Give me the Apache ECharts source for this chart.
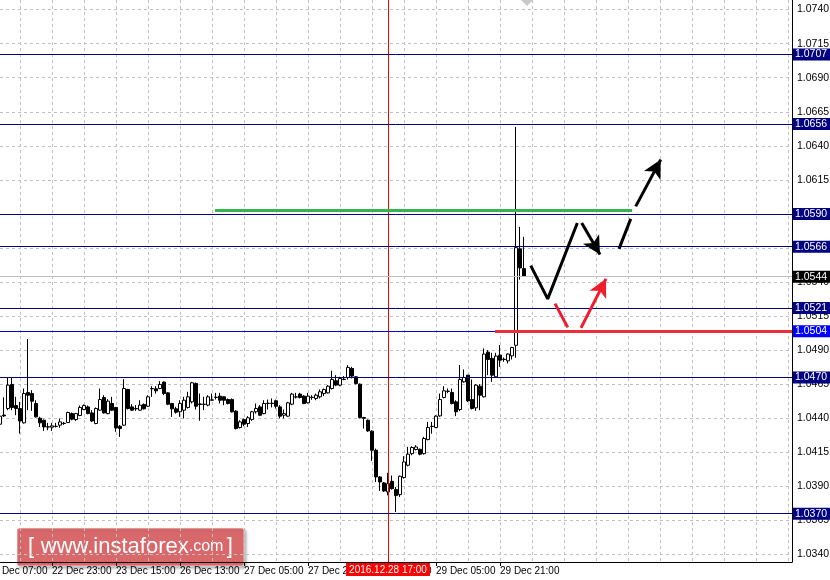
<!DOCTYPE html>
<html><head><meta charset="utf-8">
<script src="https://cdn.jsdelivr.net/npm/echarts@6/dist/echarts.min.js"></script>
<style>html,body{margin:0;padding:0;background:#fff}#c{width:830px;height:580px}</style>
</head><body><div id="c"></div>
<script>
// ---- data (EURUSD H1, bar index 0 = 22 Dec 07:00) ----
const opens = [1.0440,1.0444,1.0441,1.04357,1.04424,1.04472,1.04649,1.04494,1.04472,1.04367,
1.04590,1.04582,1.04509,1.04401,1.04386,1.04338,1.04335,1.04342,1.04350,1.04362,
1.04369,1.04435,1.04391,1.04421,1.04465,1.04484,1.04440,1.04362,1.04460,1.04553,
1.04435,1.04509,1.04480,1.04342,1.04350,1.04612,1.04484,1.04472,1.04460,1.04502,
1.04489,1.04617,1.04617,1.04619,1.04666,1.04587,1.04509,1.04470,1.04448,1.04460,
1.04480,1.04521,1.04656,1.04506,1.04502,1.04497,1.04533,1.04553,1.04563,1.04558,
1.04538,1.04538,1.04453,1.04333,1.04391,1.04362,1.04391,1.04448,1.04484,1.04435,
1.04509,1.04511,1.04529,1.04484,1.04423,1.04416,1.04504,1.04556,1.04578,1.04563,
1.04514,1.04553,1.04546,1.04558,1.04582,1.04587,1.04619,1.04676,1.04644,1.04685,
1.04700,1.04766,1.04705,1.04651,1.04406,1.04386,1.04306,1.04166,1.03970,1.03926,
1.03860,1.03938,1.03877,1.03840,1.03965,1.04056,1.04141,1.04171,1.04173,1.04141,
1.04244,1.04340,1.04333,1.04418,1.04553,1.04598,1.04590,1.04521,1.04465,1.04668,
1.04717,1.04538,1.04477,1.04636,1.04558,1.04886,1.04840,1.04705,1.04864,1.04832,
1.04822,1.04859,1.04936,1.05644,1.05499];
const closes = [1.0444,1.0441,1.0437,1.04416,1.04418,1.04644,1.04480,1.04472,1.04381,1.04582,
1.04570,1.04526,1.04411,1.04367,1.04337,1.04336,1.04345,1.04340,1.04374,1.04364,
1.04443,1.04394,1.04435,1.04480,1.04494,1.04435,1.04381,1.04472,1.04538,1.04440,
1.04526,1.04460,1.04330,1.04325,1.04619,1.04472,1.04460,1.04470,1.04497,1.04470,
1.04558,1.04619,1.04602,1.04649,1.04582,1.04504,1.04470,1.04445,1.04509,1.04533,
1.04558,1.04661,1.04489,1.04502,1.04504,1.04558,1.04536,1.04555,1.04533,1.04533,
1.04509,1.04448,1.04325,1.04374,1.04357,1.04404,1.04448,1.04472,1.04423,1.04509,
1.04511,1.04509,1.04489,1.04416,1.04435,1.04514,1.04578,1.04558,1.04553,1.04509,
1.04563,1.04555,1.04570,1.04595,1.04612,1.04636,1.04685,1.04644,1.04693,1.04687,
1.04774,1.04710,1.04656,1.04406,1.04401,1.04308,1.04166,1.03970,1.03933,1.03867,
1.03921,1.03884,1.03833,1.03975,1.04080,1.04137,1.04186,1.04190,1.04137,1.04252,
1.04333,1.04342,1.04416,1.04538,1.04602,1.04600,1.04509,1.04448,1.04685,1.04700,
1.04528,1.04472,1.04644,1.04570,1.04872,1.04832,1.04717,1.04857,1.04827,1.04834,
1.04872,1.04920,1.05653,1.05504,1.05442];
const lows = [1.0437,1.0438,1.0433,1.04320,1.04410,1.04460,1.04460,1.04423,1.04288,1.04362,
1.04460,1.04455,1.04406,1.04337,1.04308,1.04313,1.04308,1.04333,1.04330,1.04352,
1.04367,1.04386,1.04381,1.04416,1.04460,1.04430,1.04374,1.04357,1.04457,1.04435,
1.04430,1.04455,1.04301,1.04264,1.04345,1.04465,1.04455,1.04455,1.04455,1.04465,
1.04484,1.04558,1.04582,1.04614,1.04570,1.04497,1.04411,1.04435,1.04411,1.04399,
1.04472,1.04509,1.04465,1.04382,1.04460,1.04489,1.04529,1.04538,1.04509,1.04497,
1.04502,1.04443,1.04318,1.04325,1.04342,1.04337,1.04382,1.04435,1.04416,1.04430,
1.04465,1.04480,1.04472,1.04399,1.04399,1.04411,1.04497,1.04546,1.04546,1.04504,
1.04509,1.04536,1.04533,1.04546,1.04563,1.04582,1.04612,1.04636,1.04636,1.04680,
1.04685,1.04693,1.04649,1.04399,1.04325,1.04301,1.04088,1.03933,1.03867,1.03860,
1.03835,1.03877,1.03713,1.03823,1.03958,1.04048,1.04129,1.04165,1.04129,1.04134,
1.04239,1.04288,1.04328,1.04411,1.04546,1.04585,1.04502,1.04416,1.04453,1.04661,
1.04521,1.04465,1.04455,1.04460,1.04553,1.04717,1.04668,1.04700,1.04778,1.04815,
1.04803,1.04832,1.04844,1.05418,1.05438];
const highs = [1.0447,1.0446,1.0443,1.04490,1.04555,1.04700,1.04700,1.04558,1.04521,1.04619,
1.04982,1.04607,1.04533,1.04411,1.04391,1.04367,1.04367,1.04367,1.04399,1.04374,
1.04448,1.04443,1.04440,1.04494,1.04502,1.04494,1.04460,1.04480,1.04619,1.04570,
1.04541,1.04558,1.04484,1.04350,1.04688,1.04617,1.04504,1.04497,1.04533,1.04509,
1.04570,1.04636,1.04636,1.04673,1.04671,1.04592,1.04514,1.04484,1.04533,1.04558,
1.04595,1.04668,1.04663,1.04582,1.04558,1.04570,1.04582,1.04587,1.04587,1.04563,
1.04546,1.04546,1.04460,1.04386,1.04399,1.04416,1.04455,1.04509,1.04497,1.04533,
1.04538,1.04546,1.04538,1.04497,1.04465,1.04521,1.04587,1.04587,1.04587,1.04570,
1.04587,1.04570,1.04582,1.04612,1.04619,1.04644,1.04749,1.04717,1.04705,1.04710,
1.04791,1.04778,1.04710,1.04656,1.04411,1.04391,1.04313,1.04178,1.03975,1.03933,
1.04000,1.03980,1.03896,1.03980,1.04122,1.04190,1.04195,1.04203,1.04178,1.04264,
1.04374,1.04374,1.04423,1.04582,1.04636,1.04619,1.04619,1.04533,1.04791,1.04759,
1.04717,1.04685,1.04651,1.04651,1.04913,1.04901,1.04881,1.04881,1.04938,1.04847,
1.04877,1.04925,1.06539,1.05805,1.05732];

const slotCount = 202;               // hourly slots shown on the time axis
const tickLabels = ['22 Dec 07:00','22 Dec 23:00','23 Dec 15:00','26 Dec 13:00','27 Dec 05:00',
                    '27 Dec 21:00','28 Dec 13:00','29 Dec 05:00','29 Dec 21:00'];
const labelEvery = 16, gridEvery = 8;
const priceTicks = {min: 1.0315, max: 1.0765, step: 0.0025};
const levelPrices = [1.0707, 1.0656, 1.0590, 1.0566, 1.0521, 1.0504, 1.0470, 1.0370];
const supportLevel = 1.0504;
const currentPrice = 1.0544;
const markerBar = 100, markerLabel = '2016.12.28 17:00';
const greenLine = [[56.75, 1.05925], [161, 1.05925]];
const redLine = [[126.75, 1.0504], [201, 1.0504]];
const blackPath = [[135.68, 1.05521], [139.93, 1.05277], [147.33, 1.05834]];
const blackSeg = [[157.75, 1.05644], [160.68, 1.05864]];
const blackArrows = [[[148.43, 1.05834], [153.0, 1.05602]], [[161.93, 1.05956], [168.18, 1.06299]]];
const redSeg = [[141.75, 1.05242], [144.93, 1.05068]];
const redArrow = [[148.25, 1.05064], [154.5, 1.05424]];

// ---- layout ----
const W = 830, H = 580;
const gL = -12, gR = 38, gT = 0, gB = 18;
const yRef1 = {p: 1.0740, y: 9.6}, yRef2 = {p: 1.0340, y: 554.6};
const k = (yRef2.y - yRef1.y) / (yRef1.p - yRef2.p);
const priceAtY = y => yRef1.p - (y - yRef1.y) / k;
const yAtPrice = p => yRef1.y + (yRef1.p - p) * k;
const y0min = priceAtY(H - gB), y0max = priceAtY(gT);
const g1T = yAtPrice(priceTicks.max), g1B = H - yAtPrice(priceTicks.min);

const FONT = "'Liberation Sans', Arial, sans-serif";
const FS = 10.5, FSX = 10;
const slots = Array.from({length: slotCount}, (_, i) => String(i));
const candles = opens.map((o, i) => [o, closes[i], lows[i], highs[i]]);
const hasLabel = i => i % labelEvery === 0 && (i / labelEvery) < tickLabels.length;

const segItem = (pts, color, arrow) => [
  {coord: pts[0], symbol: 'none', lineStyle: {color: color, width: 3, type: 'solid'}},
  {coord: pts[1], symbol: arrow ? 'arrow' : 'none', symbolSize: [14, 18],
   lineStyle: {color: color, width: 3, type: 'solid'}, itemStyle: {color: color}}
];

const chart = echarts.init(document.getElementById('c'), null, {renderer: 'canvas'});
chart.setOption({
  animation: false,
  backgroundColor: '#fff',
  textStyle: {fontFamily: FONT},
  grid: [
    {left: gL, right: gR, top: gT, bottom: gB, containLabel: false, outerBoundsMode: 'none'},
    {left: gL, right: gR, top: g1T, bottom: g1B, containLabel: false, outerBoundsMode: 'none'}
  ],
  xAxis: [
    {type: 'category', gridIndex: 0, data: slots, boundaryGap: false,
     axisLine: {show: true, onZero: false, lineStyle: {color: '#000', width: 1}},
     axisTick: {show: true, length: 4, interval: i => hasLabel(i), lineStyle: {color: '#000'}},
     axisLabel: {show: true, interval: i => hasLabel(i), align: 'left', margin: 4,
       color: '#000', fontSize: FSX, fontFamily: FONT, hideOverlap: false,
       formatter: (v, i) => hasLabel(i) ? tickLabels[i / labelEvery] : ''},
     splitLine: {show: true, interval: i => i % gridEvery === 0,
       lineStyle: {color: '#c0c0c0', type: [3, 3], width: 1}}},
    {type: 'value', gridIndex: 1, min: 0, max: slotCount - 1, show: false}
  ],
  yAxis: [
    {type: 'value', gridIndex: 0, min: y0min, max: y0max, position: 'right', scale: true,
     axisLine: {show: true, lineStyle: {color: '#000', width: 1}},
     axisTick: {show: false}, axisLabel: {show: false}, splitLine: {show: false}},
    {type: 'value', gridIndex: 1, min: priceTicks.min, max: priceTicks.max, interval: priceTicks.step,
     position: 'right', scale: true,
     axisLine: {show: false},
     axisTick: {show: true, length: 4, lineStyle: {color: '#000'}},
     axisLabel: {show: true, margin: 5, color: '#000', fontSize: FS, fontFamily: FONT,
       formatter: v => v.toFixed(4)},
     splitLine: {show: true, lineStyle: {color: '#c0c0c0', type: [3, 3], width: 1}}}
  ],
  series: [
    {type: 'candlestick', name: 'EURUSD', xAxisIndex: 0, yAxisIndex: 0, data: candles,
     barWidth: 3, z: 3,
     itemStyle: {color: '#ffffff', color0: '#000000', borderColor: '#000000', borderColor0: '#000000',
       borderColorDoji: '#000000', borderWidth: 1},
     markLine: {silent: true, symbol: 'none', animation: false, precision: 6,
       lineStyle: {color: '#ff0000', width: 1, type: 'solid', opacity: 1},
       label: {show: true, position: 'start', distance: 1, formatter: markerLabel,
         backgroundColor: '#ff0000', color: '#fff', fontSize: FSX, fontFamily: FONT, padding: [2, 3, 1, 3]},
       data: [{xAxis: markerBar, lineStyle: {color: '#ff0000', width: 1, type: 'solid', opacity: 1}}]}},
    {type: 'line', name: 'levels', xAxisIndex: 1, yAxisIndex: 1, data: [], z: 2,
     markLine: {silent: true, symbol: 'none', animation: false, precision: 6,
       label: {show: true, position: 'end', distance: 1, color: '#fff', fontSize: FS, fontFamily: FONT,
         padding: [1, 3, 0, 2], lineHeight: 11, formatter: p => Number(p.value).toFixed(4)},
       data: levelPrices.map(p => ({yAxis: p,
           lineStyle: {color: p === supportLevel ? '#0000d0' : '#000080', width: 1, type: 'solid'},
           label: {backgroundColor: p === supportLevel ? '#0000ff' : '#000080'}}))
         .concat([{yAxis: currentPrice, lineStyle: {color: '#c0c0c0', width: 1, type: 'solid'},
           label: {backgroundColor: '#000000'}}])}},
    {type: 'line', name: 'forecast', xAxisIndex: 1, yAxisIndex: 1, data: blackPath, z: 6,
     symbol: 'none', lineStyle: {color: '#000', width: 3}, itemStyle: {color: '#000'},
     markLine: {silent: true, animation: false, precision: 6, label: {show: false},
       data: [
         segItem(greenLine, '#37b34f', false),
         segItem(redLine, '#ee2e3a', false),
         segItem(blackSeg, '#000000', false),
         segItem(blackArrows[0], '#000000', true),
         segItem(blackArrows[1], '#000000', true),
         segItem(redSeg, '#ee1c2c', false),
         segItem(redArrow, '#ee1c2c', true)
       ]}}
  ],
  graphic: [
    {type: 'polygon', shape: {points: [[521, 0], [533, 0], [527, 6]]}, style: {fill: '#c8c8c8'}, z: 50},
    {type: 'group', z: 100, children: [
      {type: 'rect', shape: {x: 17, y: 528, width: 227, height: 38, r: 2},
       style: {fill: 'rgba(222,96,100,0.9)', stroke: 'rgba(255,255,255,0.6)', lineWidth: 1,
         shadowBlur: 3, shadowColor: 'rgba(0,0,0,0.35)', shadowOffsetX: 2, shadowOffsetY: 2}},
      {type: 'text', x: 28, y: 547, style: {
        text: '{br|[}  {a|www.instaforex}{b|.com} {br|]}',
        verticalAlign: 'middle', fill: '#fff',
        rich: {
          br: {fontSize: 22, fill: '#fff', fontFamily: FONT},
          a: {fontSize: 22, fill: '#fff', fontFamily: FONT},
          b: {fontSize: 16, fill: '#fff', fontFamily: FONT}
        }}}
    ]}
  ]
});
</script>
</body></html>
